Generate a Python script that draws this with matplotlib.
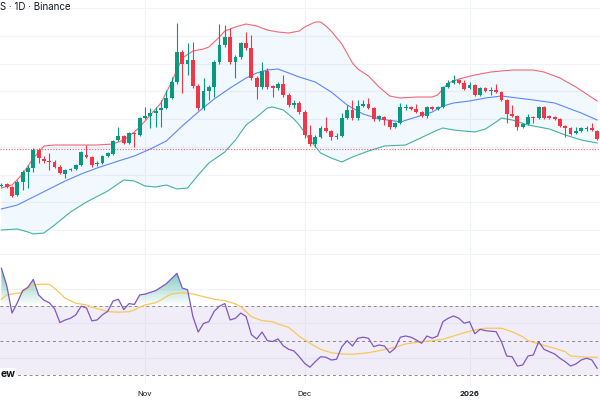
import numpy as np
import pandas as pd
import matplotlib
matplotlib.use('Agg')
import matplotlib.pyplot as plt
import matplotlib.dates as mdates
from matplotlib.path import Path

plt.rcParams['font.family'] = ['Inter', 'DejaVu Sans']

# daily candles 5 Oct 2025 .. 25 Jan 2026, price scale not shown so units are arbitrary
dates = pd.date_range('2025-10-05', '2026-01-25', freq='D')
nov1 = pd.Timestamp('2025-11-01')

opens = [64, 66, 63, 55, 68, 78, 82, 100, 91, 88.5, 88, 83, 76, 80, 81, 85, 95, 93, 86, 87, 94, 96, 110, 114, 107, 117, 115,  # Oct
         132, 134, 137, 140, 142, 152, 168, 198, 186, 190, 164, 142, 159, 163, 188, 205, 213, 188, 193, 207, 202, 172, 163, 179, 164, 162, 166, 155, 145, 147,  # Nov
         138, 115, 106, 113, 122, 119, 113, 114, 132, 140, 132, 144, 146, 142, 131, 133, 130, 123, 127, 142.5, 143, 141, 138, 134, 143, 141, 143, 163, 167, 170, 167,  # Dec
         162, 165, 155, 162, 159, 160, 158, 150, 136, 134, 123, 126, 133, 132, 143, 134, 133, 131, 124, 122, 117, 119, 121.5, 122, 119]  # Jan
highs = [67, 67, 64, 70, 80, 85, 102, 102, 94, 97, 90, 85, 81, 82, 86, 99, 105, 94, 89, 95, 98, 110, 123, 115, 118, 118, 133,
         143, 142, 143, 150, 160, 173, 227, 200, 207, 208, 166, 172, 165, 190, 226, 225, 222, 195, 208, 218, 215, 174, 188, 182, 165, 168, 175, 157, 150, 149,
         140, 125, 115, 124, 133, 120, 117, 137, 145, 150, 150, 150, 152, 143, 135, 134, 131, 128, 147, 146, 144, 146, 139, 144, 144, 144, 164, 170, 175, 171, 170,
         168, 166, 163, 163, 163, 166, 159, 151, 145, 135, 127, 136, 134, 144, 144, 135, 134, 132, 125, 123, 123, 123, 124, 127, 120]
lows = [63, 62, 53, 54, 60, 62, 78, 87, 87, 80, 82, 76, 72, 79, 80, 84, 92, 83, 84, 86, 93, 95, 109, 106, 106, 103, 114,
        131, 122, 123, 123, 141, 151, 166, 157, 175, 162, 140, 140, 150, 153, 186, 203, 186, 172, 191, 200, 170, 151, 161, 161, 153, 160, 153, 143, 142, 136,
        112, 104, 103, 112, 118, 110, 111, 113, 131, 130, 130, 143, 141, 129, 129, 125, 121, 122, 126, 140, 140, 137, 133, 132, 140, 140, 142, 162, 166, 166, 160,
        161, 154, 154, 158, 155, 157, 149, 127, 133, 120, 122, 125, 127, 131, 131, 131, 130, 123, 113, 115, 116, 118, 119, 119, 110]
closes = [65.5, 63, 54, 68, 78, 82, 100, 92, 89, 88, 83, 77, 80, 81, 85, 98, 93.5, 85, 87, 94, 97, 109, 114, 107, 117, 116, 132,
          134, 137, 139.5, 142, 152, 168, 198, 186, 190, 164, 142, 159, 163, 188, 205, 213, 188, 193, 207, 202, 172, 163, 179, 163, 162, 166, 155, 145, 147, 138,
          115, 106, 113, 122, 119, 113, 114, 132, 140, 132, 144, 146, 142, 131, 134, 130, 123, 127, 143, 143, 141, 138, 134, 143, 141, 143, 163, 167, 170, 167, 161,
          165, 155, 162, 159, 159.5, 158, 150, 136, 134, 123, 126, 133, 132, 143, 132, 132, 131, 124, 122, 116, 119, 122, 122, 120, 111]
last_price = 100.7

# Bollinger bands, read at days counted from 1 Nov
upper_days = [-27, -25, -23, -21, -19, -17, -13, -9, -6, -4, -2, -1, 1, 3, 5, 7, 9, 11, 12, 14, 15, 17, 19, 21, 23, 25, 27, 29, 30,
              32, 33, 34, 35, 37, 39, 40, 42, 44, 46, 48, 51, 54, 55, 57, 59, 62, 65, 69, 73, 75, 78, 81, 83, 85]
upper = [62, 65, 76, 92, 104, 105, 105, 105, 106, 110, 118, 123, 135, 147, 168, 192, 199, 201, 203, 213, 219, 223, 226, 224, 220, 218, 217, 219, 223,
         228, 228, 224, 219, 206, 187, 181, 174, 163, 154, 152, 153, 153, 155, 167, 171, 175, 178, 180, 180, 178, 172, 163, 156, 149]
basis_days = [-27, -24, -21, -18, -15, -12, -9, -5, -2, 1, 4, 7, 10, 13, 16, 19, 21, 23, 25, 27, 29, 32, 35, 38, 41, 44, 47, 48,
              51, 54, 56, 58, 61, 64, 67, 70, 73, 77, 79, 82, 85]
basis = [41, 45, 53, 61, 69, 76, 82, 89, 94, 101, 109, 124, 138, 151, 162, 172, 177, 180, 181, 177, 173, 168, 158, 145, 136, 131, 129, 128,
         133, 138, 144, 147, 149, 152, 154, 152, 150, 147, 143, 137, 130]
lower_days = [-27, -24, -22, -21, -19, -17, -14, -11, -7, -4, -2, 0, 2, 4, 6, 8, 10, 12, 15, 17, 19, 21, 23, 24, 26, 28, 29,
              31, 33, 35, 37, 39, 42, 45, 49, 51, 53, 55, 56, 58, 62, 64, 66, 67, 69, 72, 76, 79, 82, 85]
lower = [20, 21, 18, 16, 17, 25, 38, 48, 59, 70, 69, 64, 63, 65, 61, 62, 75, 87, 98, 110, 125, 133, 142, 143, 140, 131, 125,
         110, 97, 92, 88, 93, 99, 104, 105, 110, 115, 120, 122, 120, 118, 121, 128, 132, 130, 125, 121, 115, 110, 107]

# RSI(14), one value per candle
rsi = [92, 82, 66, 72, 79, 81, 85.5, 76.5, 73.5, 72, 68.5, 60.5, 62, 63, 65, 70, 69, 61.5, 62, 65, 67, 73, 74, 68, 71.5, 71, 76.5,
       77, 78, 79, 81, 83, 86, 89, 80.5, 79.5, 64, 55, 60, 61, 67, 70, 71.5, 62, 63, 66, 64, 53.5, 51, 55, 50, 49.5, 51, 47, 45, 44, 40.7,
       36.9, 34.6, 37.8, 40.7, 40.4, 38.8, 39.2, 46.5, 50, 46.9, 51.4, 52, 51.4, 46.5, 47.5, 46.9, 43, 45.6, 52, 52.7, 52, 50.4, 48.5, 52.7, 51.4, 52.7, 61, 63, 64.3, 63, 60.1,
       61, 54, 56.6, 55.8, 55.5, 55.2, 49.4, 41.1, 40.7, 35.3, 35.9, 41.1, 41.7, 49.4, 45, 43.6, 42.3, 39.8, 37.8, 35.3, 36.5, 38.8, 39.8, 38.8, 34]
ma_days = [-27, -26, -25, -23, -22, -21, -20, -18, -17, -16, -15, -13, -11, -10, -8, -7, -5, -3, -2, -1, 0, 2, 3, 4, 5, 7, 9, 11, 13,
           15, 17, 18, 19, 20, 22, 24, 25, 27, 28, 29, 31, 33, 35, 37, 39, 42, 44, 47, 49, 52, 54, 56, 58, 60, 62, 64, 67, 69,
           71, 72, 74, 77, 79, 80, 83, 85]
rsi_ma = [74, 76.5, 77, 78, 80.4, 82.3, 82.7, 82.7, 80.4, 77.5, 74.6, 71.7, 70.7, 69.4, 67.8, 66.8, 66.5, 66.8, 67.8, 69.4, 70.7, 72, 73.6, 75.5, 77.1, 77.8, 77.1, 75.5, 74,
          73.2, 71.3, 69.7, 66.8, 63.9, 61.6, 61, 59.7, 57.7, 55.2, 52.5, 48.5, 45, 43, 42.3, 42.1, 43, 44.2, 46.2, 48.1, 49.4, 50, 50.8, 52.7, 54.6, 56.2, 57.2, 57.2, 55.2,
          52.3, 50, 48.1, 45.6, 43.6, 41.1, 40.4, 40.4]

tick_dates = [nov1, pd.Timestamp('2025-12-01'), pd.Timestamp('2026-01-01')]
tick_labels = ['Nov', 'Dec', '2026']

green = '#089981'
red = '#F23645'
grid_c = '#F0F3FA'

o = np.array(opens); h = np.array(highs); l = np.array(lows); c = np.array(closes)
x = mdates.date2num(dates)
n1 = mdates.date2num(nov1)
x0, x1 = n1 - 27.26, n1 + 85.53

fig = plt.figure(figsize=(6, 4), dpi=100)
ax = fig.add_axes([0, 148 / 400, 1, 252 / 400])
ax2 = fig.add_axes([0, 15 / 400, 1, 133 / 400])

# price panel
ux = n1 + np.array(upper_days); lx = n1 + np.array(lower_days)
ax.fill(np.concatenate([ux, lx[::-1]]), np.concatenate([upper, lower[::-1]]),
        color='#2196F3', alpha=0.06, lw=0, zorder=1)
ax.plot(ux, upper, color=red, lw=0.8, alpha=0.75, zorder=2)
ax.plot(n1 + np.array(basis_days), basis, color='#2962FF', lw=0.8, alpha=0.75, zorder=2)
ax.plot(lx, lower, color=green, lw=0.8, alpha=0.75, zorder=2)
ax.axhline(last_price, color=red, lw=0.8, ls=(0, (1, 1.5)), alpha=0.8, zorder=2)

cols = np.where(c >= o, green, red)
ax.vlines(x, l, h, colors=cols, lw=0.8, zorder=3)
ax.bar(x, np.maximum(np.abs(c - o), 0.8), bottom=np.minimum(o, c), width=0.72,
       color=cols, lw=0, zorder=4)

ax.set_xlim(x0, x1)
ax.set_ylim(-2, 250)
ax.set_yticks(np.arange(20, 250, 27.75))
ax.set_xticks(mdates.date2num(tick_dates))
ax.grid(color=grid_c, lw=0.8)
ax.set_axisbelow(True)
ax.tick_params(length=0, labelleft=False, labelbottom=False)
for s in ax.spines.values():
    s.set_visible(False)

# RSI panel
r = np.array(rsi)
ax2.fill_between([x0, x1], 30, 70, color='#7E57C2', alpha=0.1, lw=0)
for lev in (70, 50, 30):
    ax2.axhline(lev, color='#787B86', lw=0.7, ls=(0, (3, 3)), alpha=0.9)

poly = ax2.fill_between(x, r, 70, where=r > 70, interpolate=True, facecolor='none', lw=0)
grad = np.zeros((256, 1, 4))
grad[:, 0, :3] = matplotlib.colors.to_rgb('#089981')
grad[:, 0, 3] = np.linspace(0, 0.8, 256)
im = ax2.imshow(grad, extent=[x0, x1, 70, 100], origin='lower', aspect='auto', zorder=2)
clip = Path.make_compound_path(*poly.get_paths())
im.set_clip_path(clip, transform=ax2.transData)

ax2.plot(n1 + np.array(ma_days), rsi_ma, color='#F5C85A', lw=0.9, zorder=3)
ax2.plot(x, r, color='#7E57C2', lw=0.9, zorder=4)

ax2.set_xlim(x0, x1)
ax2.set_ylim(24.3, 101.4)
ax2.set_yticks([40, 60, 80, 100])
ax2.set_xticks(mdates.date2num(tick_dates))
ax2.set_xticklabels(tick_labels)
ax2.grid(color=grid_c, lw=0.8)
ax2.set_axisbelow(True)
ax2.tick_params(axis='y', length=0, labelleft=False)
ax2.tick_params(axis='x', length=0, pad=4.5, labelsize=5.5, labelcolor='#131722')
ax2.get_xticklabels()[2].set_fontweight('bold')
for s in ax2.spines.values():
    s.set_visible(False)

# header and logo, as much of them as the cropped picture shows
fig.text(0.5 / 600, 1 - 6.7 / 400, 'S · 1D · Binance', fontsize=7, color='#131722',
         ha='left', va='center')
fig.text(0.5 / 600, 1 - 374 / 400, 'ew', fontsize=7.5, fontweight='bold',
         color='#131722', ha='left', va='center',
         bbox=dict(facecolor='white', edgecolor='none', pad=0.5))

fig.savefig('out.png', dpi=100)
